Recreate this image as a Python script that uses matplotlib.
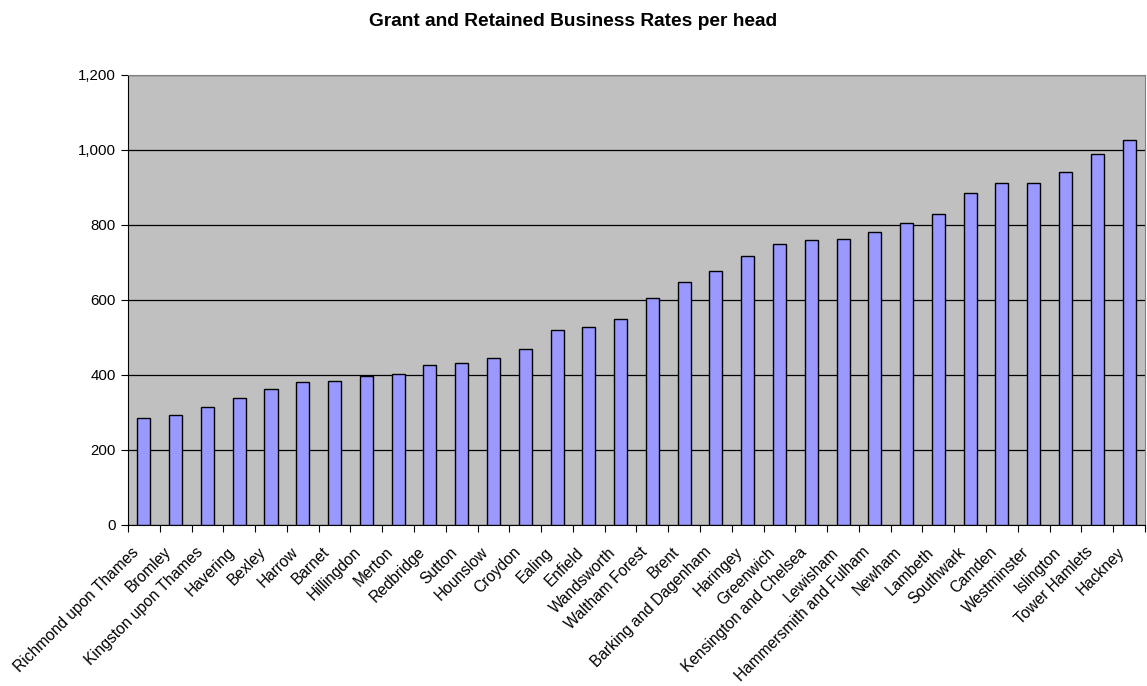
import matplotlib.pyplot as plt
import matplotlib.transforms as mtransforms
import numpy as np

plt.rcParams['font.family'] = ['Liberation Sans', 'DejaVu Sans']

boroughs = ["Richmond upon Thames", "Bromley", "Kingston upon Thames", "Havering",
            "Bexley", "Harrow", "Barnet", "Hillingdon", "Merton", "Redbridge",
            "Sutton", "Hounslow", "Croydon", "Ealing", "Enfield", "Wandsworth",
            "Waltham Forest", "Brent", "Barking and Dagenham", "Haringey",
            "Greenwich", "Kensington and Chelsea", "Lewisham",
            "Hammersmith and Fulham", "Newham", "Lambeth", "Southwark",
            "Camden", "Westminster", "Islington", "Tower Hamlets", "Hackney"]
per_head = [285, 294, 314, 338, 363, 380, 383, 398, 403, 426, 432, 444,
            470, 519, 527, 549, 605, 648, 677, 717, 750, 759, 763, 781,
            804, 828, 886, 911, 913, 940, 988, 1026]
yticks = [0, 200, 400, 600, 800, 1000, 1200]

fig = plt.figure(figsize=(11.47, 6.86), dpi=100)
ax = fig.add_axes([0.1116, 0.2347, 0.8866, 0.656])
ax.set_facecolor("#C0C0C0")

x = np.arange(len(boroughs))
ax.bar(x, per_head, width=0.41, color="#9999FF", edgecolor="black", linewidth=1, zorder=3)

ax.set_xlim(-0.5, len(boroughs) - 0.5)
ax.set_ylim(0, 1200)
ax.set_yticks(yticks)
ax.set_yticklabels([f"{v:,}" for v in yticks], fontsize=10.8)
ax.yaxis.grid(True, color="black", linewidth=0.9, zorder=1)
ax.tick_params(axis="y", length=5, color="black", width=0.8, pad=4)

# category labels, slanted like the spreadsheet original
ax.set_xticks(x)
ax.set_xticklabels(boroughs, rotation=45, ha="right", rotation_mode="anchor", fontsize=11.2)
ax.tick_params(axis="x", length=0, pad=14)
ax.set_xticks(np.arange(-0.5, len(boroughs)), minor=True)
ax.tick_params(axis="x", which="minor", length=5, color="black", width=0.8)
shift = mtransforms.ScaledTranslation(-9 / 72, 0, fig.dpi_scale_trans)
for lbl in ax.get_xticklabels():
    lbl.set_transform(lbl.get_transform() + shift)

for s in ["top", "right"]:
    ax.spines[s].set_color("#808080")
for s in ["left", "bottom"]:
    ax.spines[s].set_color("black")

fig.text(0.5, 0.968, "Grant and Retained Business Rates per head",
         ha="center", va="center", fontsize=13.8, fontweight="bold")

fig.savefig("out.png", dpi=100)
